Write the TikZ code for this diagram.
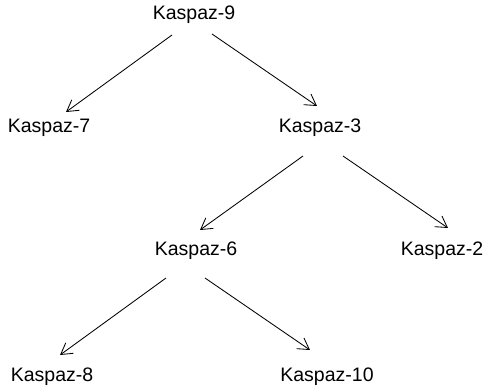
\documentclass[tikz,border=0pt]{standalone}
\usepackage{fontspec}
\setmainfont{Liberation Sans}
\usetikzlibrary{arrows.meta,calc}
\begin{document}
\begin{tikzpicture}[x=1pt,y=-1pt,
  lbl/.style={anchor=base,inner sep=0pt,font=\fontsize{19.5}{22}\selectfont},
  arr/.style={line width=0.85pt,-{Straight Barb[length=11pt,width=13pt,line width=0.85pt]}}]
\useasboundingbox (0,0) rectangle (486,390);
\node[lbl] (n9) at (194,20) {Kaspaz-9};
\node[lbl] (n7) at (49,132) {Kaspaz-7};
\node[lbl] (n3) at (320,132) {Kaspaz-3};
\node[lbl] (n6) at (196,255) {Kaspaz-6};
\node[lbl] (n2) at (442,255) {Kaspaz-2};
\node[lbl] (n8) at (52,381) {Kaspaz-8};
\node[lbl] (n10) at (327,381) {Kaspaz-10};
\draw[arr] ($(n9.base)+(-22,15)$) -- ($(n7.base)+(17,-20)$);
\draw[arr] ($(n9.base)+(18,14)$) -- ($(n3.base)+(-3,-26)$);
\draw[arr] ($(n3.base)+(-17,24)$) -- ($(n6.base)+(4,-25)$);
\draw[arr] ($(n3.base)+(23,24)$) -- ($(n2.base)+(6,-27)$);
\draw[arr] ($(n6.base)+(-30,23)$) -- ($(n8.base)+(8,-26)$);
\draw[arr] ($(n6.base)+(9,23)$) -- ($(n10.base)+(-17,-31)$);
\end{tikzpicture}
\end{document}
